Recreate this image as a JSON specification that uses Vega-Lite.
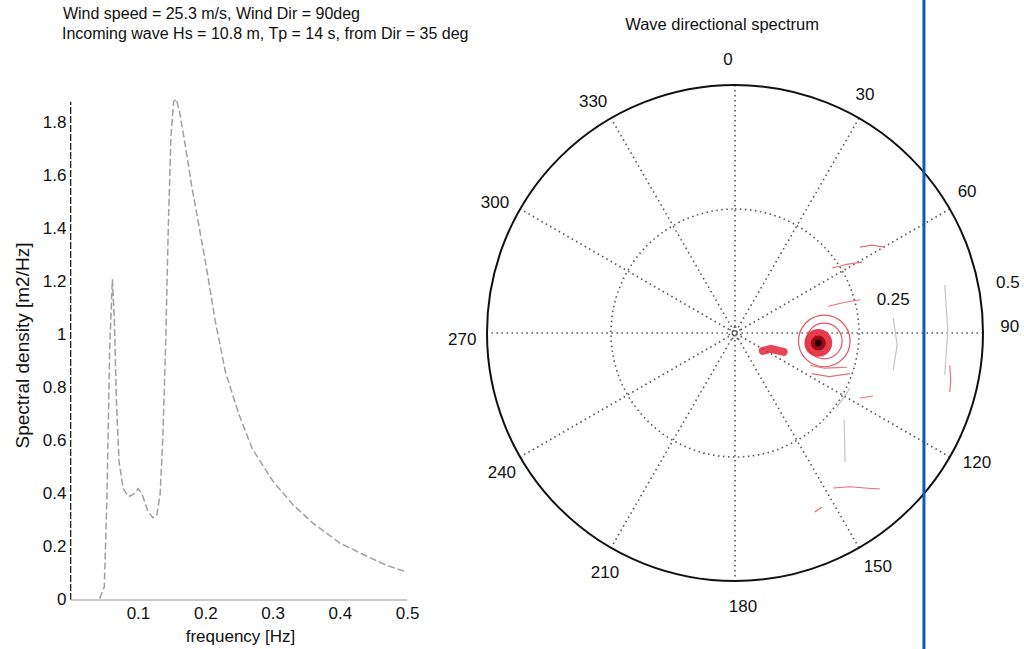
{
  "$schema": "https://vega.github.io/schema/vega-lite/v6.json",
  "width": 1024,
  "height": 649,
  "padding": 0,
  "autosize": {"type": "none"},
  "background": "white",
  "config": {"view": {"stroke": null}, "text": {"font": "Liberation Sans"}},
  "datasets": {
    "spec": [
      {"f": 0.043, "S": 0.005}, {"f": 0.050, "S": 0.05}, {"f": 0.054, "S": 0.40}, {"f": 0.058, "S": 0.95},
      {"f": 0.062, "S": 1.21}, {"f": 0.065, "S": 1.05}, {"f": 0.068, "S": 0.75}, {"f": 0.072, "S": 0.52},
      {"f": 0.078, "S": 0.42}, {"f": 0.086, "S": 0.39}, {"f": 0.094, "S": 0.40}, {"f": 0.100, "S": 0.42},
      {"f": 0.106, "S": 0.40}, {"f": 0.114, "S": 0.34}, {"f": 0.122, "S": 0.31}, {"f": 0.128, "S": 0.32},
      {"f": 0.133, "S": 0.40}, {"f": 0.137, "S": 0.62}, {"f": 0.141, "S": 0.95}, {"f": 0.145, "S": 1.40},
      {"f": 0.149, "S": 1.75}, {"f": 0.153, "S": 1.88}, {"f": 0.157, "S": 1.89}, {"f": 0.162, "S": 1.84},
      {"f": 0.170, "S": 1.72}, {"f": 0.180, "S": 1.56}, {"f": 0.190, "S": 1.42}, {"f": 0.200, "S": 1.28},
      {"f": 0.215, "S": 1.05}, {"f": 0.230, "S": 0.86}, {"f": 0.250, "S": 0.70}, {"f": 0.270, "S": 0.57},
      {"f": 0.300, "S": 0.45}, {"f": 0.330, "S": 0.36}, {"f": 0.360, "S": 0.29}, {"f": 0.400, "S": 0.215},
      {"f": 0.440, "S": 0.165}, {"f": 0.470, "S": 0.13}, {"f": 0.500, "S": 0.105}
    ],
    "spokes": [
      {"px": 0, "py": 0.5, "px2": 0, "py2": -0.5},
      {"px": 0.25, "py": 0.433, "px2": -0.25, "py2": -0.433},
      {"px": 0.433, "py": 0.25, "px2": -0.433, "py2": -0.25},
      {"px": 0.5, "py": 0, "px2": -0.5, "py2": 0},
      {"px": 0.433, "py": -0.25, "px2": -0.433, "py2": 0.25},
      {"px": 0.25, "py": -0.433, "px2": -0.25, "py2": 0.433}
    ],
    "labels": [
      {"px": -0.014, "py": 0.550, "t": "0"},
      {"px": 0.262, "py": 0.480, "t": "30"},
      {"px": 0.468, "py": 0.284, "t": "60"},
      {"px": 0.550, "py": 0.101, "t": "0.5"},
      {"px": 0.554, "py": 0.012, "t": "90"},
      {"px": 0.319, "py": 0.067, "t": "0.25"},
      {"px": 0.488, "py": -0.262, "t": "120"},
      {"px": 0.288, "py": -0.472, "t": "150"},
      {"px": 0.016, "py": -0.552, "t": "180"},
      {"px": -0.262, "py": -0.484, "t": "210"},
      {"px": -0.470, "py": -0.282, "t": "240"},
      {"px": -0.550, "py": -0.014, "t": "270"},
      {"px": -0.484, "py": 0.262, "t": "300"},
      {"px": -0.286, "py": 0.466, "t": "330"}
    ],
    "redsegs": [
      {"seg": "s1", "o": 1, "px": 0.252, "py": 0.173}, {"seg": "s1", "o": 2, "px": 0.276, "py": 0.177}, {"seg": "s1", "o": 3, "px": 0.302, "py": 0.173},
      {"seg": "s2", "o": 1, "px": 0.196, "py": 0.131}, {"seg": "s2", "o": 2, "px": 0.228, "py": 0.139}, {"seg": "s2", "o": 3, "px": 0.256, "py": 0.143},
      {"seg": "s3", "o": 1, "px": 0.188, "py": 0.054}, {"seg": "s3", "o": 2, "px": 0.222, "py": 0.062}, {"seg": "s3", "o": 3, "px": 0.252, "py": 0.067},
      {"seg": "s5", "o": 1, "px": 0.252, "py": -0.131}, {"seg": "s5", "o": 2, "px": 0.278, "py": -0.127},
      {"seg": "s6", "o": 1, "px": 0.198, "py": -0.3125}, {"seg": "s6", "o": 2, "px": 0.232, "py": -0.310}, {"seg": "s6", "o": 3, "px": 0.262, "py": -0.3125}, {"seg": "s6", "o": 4, "px": 0.292, "py": -0.3145},
      {"seg": "s7", "o": 1, "px": 0.161, "py": -0.361}, {"seg": "s7", "o": 2, "px": 0.175, "py": -0.351},
      {"seg": "s8", "o": 1, "px": 0.433, "py": -0.065}, {"seg": "s8", "o": 2, "px": 0.435, "py": -0.095}, {"seg": "s8", "o": 3, "px": 0.433, "py": -0.119},
      {"seg": "s9", "o": 1, "px": 0.151, "py": -0.065}, {"seg": "s9", "o": 2, "px": 0.18, "py": -0.071}, {"seg": "s9", "o": 3, "px": 0.226, "py": -0.069},
      {"seg": "s10", "o": 1, "px": 0.155, "py": -0.082}, {"seg": "s10", "o": 2, "px": 0.19, "py": -0.088}, {"seg": "s10", "o": 3, "px": 0.232, "py": -0.082}
    ],
    "graysegs": [
      {"seg": "g1", "o": 1, "px": 0.423, "py": 0.097}, {"seg": "g1", "o": 2, "px": 0.429, "py": 0.006}, {"seg": "g1", "o": 3, "px": 0.423, "py": -0.085},
      {"seg": "g2", "o": 1, "px": 0.319, "py": 0.030}, {"seg": "g2", "o": 2, "px": 0.327, "py": -0.024}, {"seg": "g2", "o": 3, "px": 0.319, "py": -0.075},
      {"seg": "g3", "o": 1, "px": 0.206, "py": -0.149}, {"seg": "g3", "o": 2, "px": 0.232, "py": -0.111},
      {"seg": "g4", "o": 1, "px": 0.22, "py": -0.175}, {"seg": "g4", "o": 2, "px": 0.222, "py": -0.26}
    ],
    "streak": [
      {"o": 1, "px": 0.056, "py": -0.036},
      {"o": 2, "px": 0.072, "py": -0.032},
      {"o": 3, "px": 0.098, "py": -0.038}
    ]
  },
  "layer": [
    {
      "encoding": {
        "x": {"field": "f", "type": "quantitative",
          "scale": {"domain": [-0.105, 1.4165], "nice": false, "zero": false},
          "axis": {"values": [0.1, 0.2, 0.3, 0.4, 0.5], "format": "~g", "offset": -51, "domain": false, "grid": false, "ticks": false,
            "labelPadding": 7, "labelFontSize": 17, "labelFont": "Liberation Sans", "labelColor": "#111", "labelFlush": false, "labelOverlap": false,
            "title": "frequency [Hz]", "titleFontSize": 17, "titleFont": "Liberation Sans", "titleFontWeight": "normal", "titleColor": "#111",
            "titleX": 240, "titleY": 38, "titleBaseline": "middle", "titleAlign": "center"}},
        "y": {"field": "S", "type": "quantitative",
          "scale": {"domain": [-0.185, 2.264], "nice": false, "zero": false},
          "axis": {"values": [0, 0.2, 0.4, 0.6, 0.8, 1, 1.2, 1.4, 1.6, 1.8], "format": "~g", "offset": -71, "domain": false, "grid": false, "ticks": false,
            "labelPadding": 5, "labelFontSize": 17, "labelFont": "Liberation Sans", "labelColor": "#111", "labelFlush": false, "labelOverlap": false,
            "title": "Spectral density [m2/Hz]", "titleFontSize": 19, "titleFont": "Liberation Sans", "titleFontWeight": "normal", "titleColor": "#111",
            "titleX": -49, "titleY": 345, "titleBaseline": "middle", "titleAlign": "center", "titleAngle": -90}}
      },
      "layer": [
        {"data": {"values": [{"f": 0, "S": 0, "S2": 1.88}]},
         "mark": {"type": "rule", "stroke": "#222", "strokeWidth": 1.3, "strokeDash": [7, 2]},
         "encoding": {"y2": {"field": "S2"}}},
        {"data": {"values": [{"f": 0, "S": 0, "f2": 0.5}]},
         "mark": {"type": "rule", "stroke": "#b8b8b8", "strokeWidth": 1.5},
         "encoding": {"x2": {"field": "f2"}}},
        {"data": {"name": "spec"},
         "mark": {"type": "line", "stroke": "#a0a0a0", "strokeWidth": 1.5, "strokeDash": [7, 3]}}
      ]
    },
    {
      "encoding": {
        "x": {"field": "px", "type": "quantitative", "scale": {"domain": [-1.4819, 0.5827], "nice": false, "zero": false}, "axis": null},
        "y": {"field": "py", "type": "quantitative", "scale": {"domain": [-0.6371, 0.6714], "nice": false, "zero": false}, "axis": null}
      },
      "layer": [
        {"data": {"values": [{"px": 0, "py": 0, "r": 0.25}, {"px": 0, "py": 0, "r": 0.012}]},
         "mark": {"type": "arc", "theta": 0, "theta2": 6.2832, "filled": false, "stroke": "#555", "strokeWidth": 1.6, "strokeDash": [1.5, 3.5]},
         "encoding": {"radius": {"field": "r", "type": "quantitative", "stack": null, "scale": {"type": "linear", "domain": [0, 0.5], "range": [0, 248], "zero": true}}}},
        {"data": {"name": "spokes"},
         "mark": {"type": "rule", "stroke": "#555", "strokeWidth": 1.6, "strokeDash": [1.5, 3.5]},
         "encoding": {"x2": {"field": "px2"}, "y2": {"field": "py2"}}},
        {"data": {"values": [{"px": 0, "py": 0, "r": 0.5}]},
         "mark": {"type": "arc", "theta": 0, "theta2": 6.2832, "filled": false, "stroke": "#111", "strokeWidth": 2},
         "encoding": {"radius": {"field": "r", "type": "quantitative", "stack": null, "scale": {"type": "linear", "domain": [0, 0.5], "range": [0, 248], "zero": true}}}},
        {"data": {"values": [{"px": 0.18, "py": -0.016, "r": 0.036}, {"px": 0.18, "py": -0.016, "r": 0.052}]},
         "mark": {"type": "arc", "theta": 0, "theta2": 6.2832, "filled": false, "stroke": "#e05565", "strokeWidth": 1.2},
         "encoding": {"radius": {"field": "r", "type": "quantitative", "stack": null, "scale": {"type": "linear", "domain": [0, 0.5], "range": [0, 248], "zero": true}}}},
        {"data": {"name": "streak"},
         "mark": {"type": "line", "stroke": "#e3283a", "strokeWidth": 8, "strokeCap": "round", "opacity": 0.85},
         "encoding": {"order": {"field": "o", "type": "quantitative"}}},
        {"data": {"values": [{"px": 0.168, "py": -0.02, "r": 0.028}]},
         "mark": {"type": "arc", "theta": 0, "theta2": 6.2832, "filled": true, "fill": "#e3283a", "opacity": 0.9},
         "encoding": {"radius": {"field": "r", "type": "quantitative", "stack": null, "scale": {"type": "linear", "domain": [0, 0.5], "range": [0, 248], "zero": true}}}},
        {"data": {"values": [{"px": 0.168, "py": -0.02, "r": 0.015}]},
         "mark": {"type": "arc", "theta": 0, "theta2": 6.2832, "filled": true, "fill": "#a00818"},
         "encoding": {"radius": {"field": "r", "type": "quantitative", "stack": null, "scale": {"type": "linear", "domain": [0, 0.5], "range": [0, 248], "zero": true}}}},
        {"data": {"values": [{"px": 0.168, "py": -0.02, "r": 0.007}]},
         "mark": {"type": "arc", "theta": 0, "theta2": 6.2832, "filled": true, "fill": "#200000"},
         "encoding": {"radius": {"field": "r", "type": "quantitative", "stack": null, "scale": {"type": "linear", "domain": [0, 0.5], "range": [0, 248], "zero": true}}}},
        {"data": {"name": "redsegs"},
         "mark": {"type": "line", "stroke": "#e8707c", "strokeWidth": 1.2},
         "encoding": {"detail": {"field": "seg"}, "order": {"field": "o", "type": "quantitative"}}},
        {"data": {"name": "graysegs"},
         "mark": {"type": "line", "stroke": "#c4c4c4", "strokeWidth": 1.2},
         "encoding": {"detail": {"field": "seg"}, "order": {"field": "o", "type": "quantitative"}}},
        {"data": {"values": [{"px": 0.381, "py": -0.7, "py2": 0.7}]},
         "mark": {"type": "rule", "stroke": "#0b5cc0", "strokeWidth": 3},
         "encoding": {"y2": {"field": "py2"}}},
        {"data": {"name": "labels"},
         "mark": {"type": "text", "fontSize": 17, "font": "Liberation Sans", "color": "#111", "align": "center", "baseline": "middle"},
         "encoding": {"text": {"field": "t"}}},
        {"data": {"values": [{"px": -0.026, "py": 0.621, "t": "Wave directional spectrum"}]},
         "mark": {"type": "text", "fontSize": 16.5, "font": "Liberation Sans", "color": "#111", "align": "center", "baseline": "middle"},
         "encoding": {"text": {"field": "t"}}},
        {"data": {"values": [{"px": -1.355, "py": 0.643, "t": "Wind speed = 25.3 m/s, Wind Dir = 90deg"}, {"px": -1.357, "py": 0.603, "t": "Incoming wave  Hs = 10.8 m, Tp = 14 s, from Dir = 35 deg"}]},
         "mark": {"type": "text", "fontSize": 16, "font": "Liberation Sans", "color": "#111", "align": "left", "baseline": "middle"},
         "encoding": {"text": {"field": "t"}}}
      ]
    }
  ],
  "resolve": {"scale": {"x": "independent", "y": "independent"}}
}
